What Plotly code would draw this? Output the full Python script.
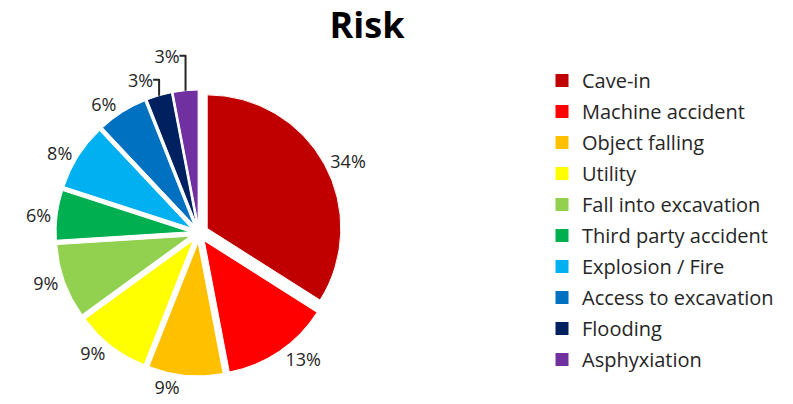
import plotly.graph_objects as go

categories = ["Cave-in", "Machine accident", "Object falling", "Utility",
              "Fall into excavation", "Third party accident", "Explosion / Fire",
              "Access to excavation", "Flooding", "Asphyxiation"]
values = [34, 13, 9, 9, 9, 6, 8, 6, 3, 3]
colors = ["#C00000", "#FF0000", "#FFC000", "#FFFF00", "#92D050",
          "#00B050", "#00B0F0", "#0070C0", "#002060", "#7030A0"]

W, H = 793, 404
cx, cy, R = 199, 233, 143

dom = dict(x=[(cx - R) / W, (cx + R) / W], y=[1 - (cy + R) / H, 1 - (cy - R) / H])

fig = go.Figure()
fig.add_trace(go.Pie(
    labels=categories,
    values=values,
    marker=dict(colors=colors, line=dict(color="white", width=1)),
    sort=False,
    direction="clockwise",
    rotation=0,
    pull=[0.07] * len(values),
    textinfo="percent",
    textposition="outside",
    texttemplate="%{percent:.0%}",
    textfont=dict(family="Open Sans", size=18, color="#262626"),
    domain=dom,
    hoverinfo="label+percent",
    showlegend=False,
))

for i, (name, col) in enumerate(zip(categories, colors)):
    fig.add_trace(go.Scatter(
        x=[None], y=[None], mode="markers", name=name,
        marker=dict(symbol="square", size=13, color=col),
        legendgroup=f"g{i}", showlegend=True, hoverinfo="skip",
    ))

fig.update_layout(
    width=W, height=H,
    margin=dict(l=0, r=0, t=0, b=0, autoexpand=False),
    paper_bgcolor="white",
    plot_bgcolor="white",
    xaxis=dict(visible=False),
    yaxis=dict(visible=False),
    title=dict(text="<b>Risk</b>", x=367 / W, xanchor="center", y=1 - 25 / H, yanchor="middle",
               font=dict(family="Open Sans", size=36, color="#000000")),
    legend=dict(x=542 / W, xanchor="left", y=1 - 61 / H, yanchor="top",
                font=dict(family="Open Sans", size=20, color="#262626"),
                itemwidth=30, tracegroupgap=2, itemclick=False, itemdoubleclick=False),
    showlegend=True,
)

fig.write_html("out.html")
